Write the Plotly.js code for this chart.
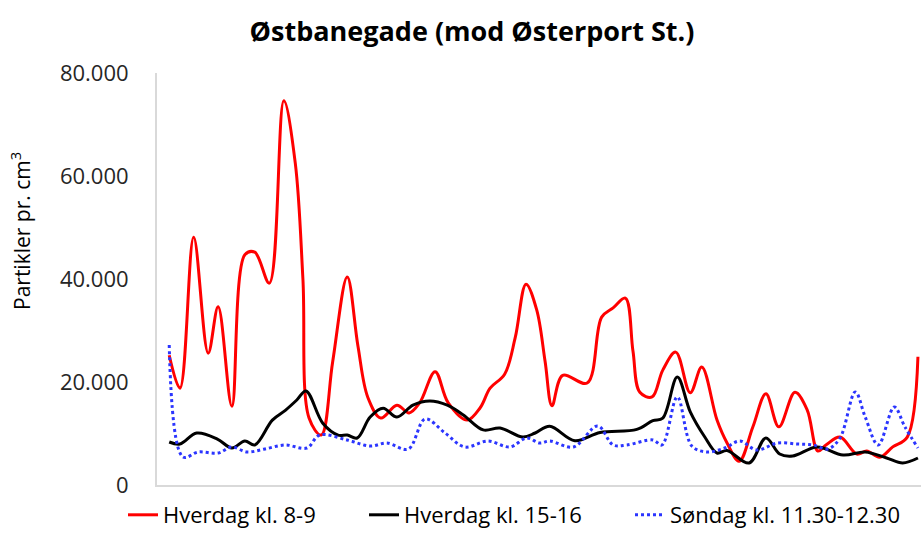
<!DOCTYPE html>
<html>
<head>
<meta charset="utf-8">
<script src="https://cdn.plot.ly/plotly-3.0.1.min.js"></script>
<style>html,body{margin:0;padding:0;background:#fff;}#chart{width:921px;height:533px;}</style>
</head>
<body>
<div id="chart"></div>
<script>
// Position along route (0-100 % of recorded stretch) and particle counts per cm3
const redX = [1.6,3.0,4.8,6.7,8.0,9.8,11.5,12.8,14.7,16.6,18.1,19.1,19.9,21.5,23.0,24.9,26.3,27.6,29.3,31.4,33.0,34.4,36.4,38.1,40.6,42.3,43.6,45.5,46.9,48.3,49.7,50.8,51.7,53.1,56.3,58.2,59.7,61.3,62.3,63.2,64.8,66.2,67.9,69.8,71.3,73.3,74.6,76.2,78.0,79.7,81.4,83.5,85.1,86.5,87.6,89.4,91.6,92.9,94.6,96.3,98.2,99.6];
const redY = [25200,18800,48100,25600,34600,15300,44700,45200,39200,74600,62500,40000,13000,9700,24000,40400,27000,17000,13000,15500,14000,16000,22000,16000,12600,15000,18800,21500,28700,39000,34000,24000,15400,21300,19800,32600,34400,36300,26000,18000,17100,22300,25800,17900,22900,12600,8200,4600,11300,17700,11300,18000,14600,6600,7800,9300,6000,6600,5400,7400,9300,24900];

const blackX = [1.6,3.0,5.2,7.9,9.8,11.5,12.8,15.1,16.8,18.3,19.5,21.7,23.7,24.9,26.2,27.9,29.6,31.4,33.5,35.7,38.0,40.1,42.7,44.9,47.9,49.5,51.4,54.7,58.0,62.8,64.9,66.2,68.1,69.8,71.7,73.3,74.6,77.5,79.7,81.5,83.2,86.4,89.8,92.7,95.5,97.6,99.6];
const blackY = [8350,7960,10100,8930,7180,8540,7770,12600,14500,16500,18250,12000,9700,9700,9130,13200,14900,13200,15500,16300,15500,13600,10700,11070,9320,10100,11400,8600,10200,10800,12500,13000,20970,14200,9320,6210,6700,4270,9130,6020,5630,7380,5830,6410,5240,4270,5240];

const blueX = [1.6,3.4,5.4,8.0,9.8,11.8,14.1,16.8,19.6,21.3,24.9,27.9,30.1,32.9,35.1,37.7,40.3,43.3,46.2,48.4,50.1,51.4,54.5,57.7,59.7,61.5,64.9,66.1,68.1,70.0,72.0,74.3,76.3,78.5,81.2,83.8,85.9,87.8,89.4,91.4,92.7,94.4,96.5,97.9,99.6];
const blueY = [27200,5440,6410,6210,7380,6410,6990,7770,7180,9710,8740,7570,8150,6990,12820,10100,7380,8540,7380,9130,8150,8540,7380,11460,7770,7770,8740,7770,17090,7570,6410,7180,8540,6800,8150,7960,7770,6990,9130,18060,13200,7770,15150,11260,7180];

const seriesNames = ["Hverdag kl. 8-9", "Hverdag kl. 15-16", "Søndag kl. 11.30-12.30"];
const yTickVals = [0, 20000, 40000, 60000, 80000];
const yTickText = ["0", "20.000", "40.000", "60.000", "80.000"];
const chartTitle = "Østbanegade (mod Østerport St.)";
const yTitle = "Partikler pr. cm<sup>3</sup>";

const FONT = "Open Sans, Noto Sans, sans-serif";

const traces = [
  {x: redX, y: redY, name: seriesNames[0], type: "scatter", mode: "lines", legend: "legend",
   line: {color: "#ff0000", width: 3, shape: "spline", smoothing: 1}},
  {x: blackX, y: blackY, name: seriesNames[1], type: "scatter", mode: "lines", legend: "legend2",
   line: {color: "#000000", width: 3, shape: "spline", smoothing: 1}},
  {x: blueX, y: blueY, name: seriesNames[2], type: "scatter", mode: "lines", legend: "legend3",
   line: {color: "#2b35ff", width: 3, dash: "dot", shape: "spline", smoothing: 1}}
];

function legendAt(px) {
  return {orientation: "h", xref: "container", yref: "container", x: px / 921, xanchor: "left",
          y: 1 - 515 / 533, yanchor: "middle", font: {family: FONT, size: 22, color: "#000000"},
          bgcolor: "rgba(0,0,0,0)"};
}

const layout = {
  width: 921, height: 533,
  margin: {l: 157, r: 0, t: 73, b: 48},
  paper_bgcolor: "#ffffff", plot_bgcolor: "#ffffff",
  font: {family: FONT, color: "#262626", size: 20},
  title: {text: "<b>" + chartTitle + "</b>", font: {family: FONT, size: 27, color: "#000000"},
          x: 472/921, xref: "container", xanchor: "center", y: 1 - 32/533, yref: "container", yanchor: "middle"},
  xaxis: {range: [0, 100], showgrid: false, zeroline: false, showticklabels: false, ticks: "",
          showline: true, linecolor: "#d9d9d9", linewidth: 2, fixedrange: true},
  yaxis: {range: [0, 80000], tickvals: yTickVals, ticktext: yTickText, showgrid: false, zeroline: false,
          showline: true, linecolor: "#d9d9d9", linewidth: 2, ticks: "", ticklabelstandoff: 22,
          tickfont: {family: FONT, size: 22, color: "#262626"}},
  showlegend: true,
  legend: legendAt(123),
  legend2: legendAt(364),
  legend3: legendAt(630),
  annotations: [{text: yTitle, textangle: -90, xref: "paper", yref: "paper",
                 x: (20 - 157) / 764, y: (485 - 231) / 412, xanchor: "center", yanchor: "middle",
                 showarrow: false, font: {family: FONT, size: 21, color: "#000000"}}]
};

Plotly.newPlot("chart", traces, layout, {displayModeBar: false, staticPlot: true});
</script>
</body>
</html>
